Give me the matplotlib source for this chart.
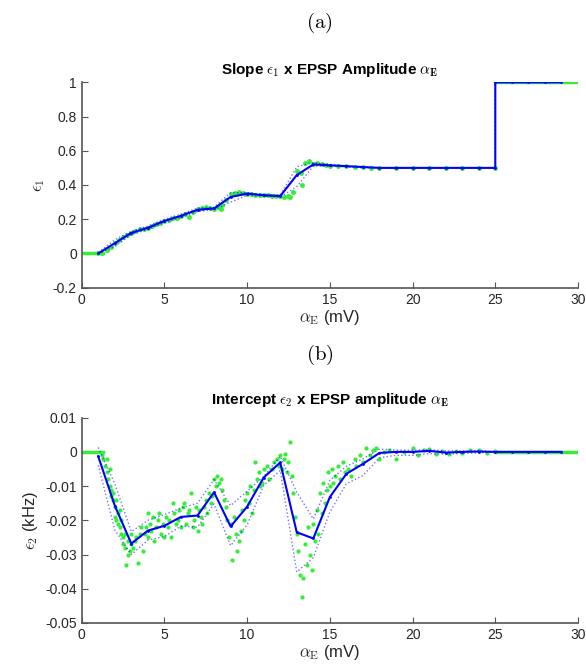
import matplotlib
matplotlib.use('Agg')
from matplotlib import pyplot as plt

plt.rcParams['font.family'] = ['Liberation Sans', 'DejaVu Sans']
plt.rcParams['mathtext.fontset'] = 'cm'

# ---- panel (a): slope eps1 vs EPSP amplitude ----
a_x = [1, 2, 3, 4, 5, 6, 7, 8, 9, 10, 11, 12, 13, 14, 15, 16, 17, 18, 19, 20,
       21, 22, 23, 24, 25, 25, 26, 27, 28, 29]
a_mean = [0.0, 0.06, 0.12, 0.15, 0.19, 0.22, 0.255, 0.263, 0.33, 0.35, 0.34, 0.335,
          0.458, 0.52, 0.515, 0.51, 0.505, 0.50, 0.50, 0.50, 0.50, 0.50, 0.50, 0.50,
          0.50, 1.0, 1.0, 1.0, 1.0, 1.0]
a_upper = [0.005, 0.08, 0.13, 0.16, 0.20, 0.23, 0.265, 0.27, 0.355, 0.355, 0.345, 0.34,
           0.507, 0.53, 0.52, 0.51, 0.505, 0.50, 0.50, 0.50, 0.50, 0.50, 0.50, 0.50,
           0.50, 1.0, 1.0, 1.0, 1.0, 1.0]
a_lower = [0.0, 0.04, 0.11, 0.14, 0.18, 0.21, 0.245, 0.255, 0.30, 0.34, 0.335, 0.33,
           0.39, 0.51, 0.51, 0.505, 0.50, 0.50, 0.50, 0.50, 0.50, 0.50, 0.50, 0.50,
           0.50, 1.0, 1.0, 1.0, 1.0, 1.0]

a_pts_x = [1.0, 1.25, 1.5, 1.75, 2.0, 2.25, 2.5, 2.75, 3.0, 3.25, 3.5, 3.75, 4.0, 4.25,
           4.5, 4.75, 5.0, 5.25, 5.5, 5.75, 6.0, 6.25, 6.5, 6.75, 7.0, 7.25, 7.5, 7.75,
           8.0, 8.25, 8.5, 8.75, 9.0, 9.25, 9.5, 9.75, 10.0, 10.25, 10.5, 10.75, 11.0,
           11.25, 11.5, 11.75, 12.0, 12.25, 12.5, 12.75, 13.0, 13.25, 13.5, 13.75, 14.0,
           14.25, 14.5, 14.75, 15.0, 15.5, 16.0, 16.5, 17.0, 17.5, 18.0, 19.0, 20.0,
           21.0, 22.0, 23.0, 24.0, 25.0, 8.4, 12.6, 13.3, 9.4]
a_pts_y = [0.0, 0.005, 0.02, 0.04, 0.06, 0.08, 0.095, 0.11, 0.12, 0.13, 0.14, 0.145,
           0.15, 0.16, 0.17, 0.18, 0.19, 0.195, 0.205, 0.21, 0.22, 0.23, 0.215, 0.245,
           0.26, 0.265, 0.27, 0.265, 0.26, 0.27, 0.285, 0.31, 0.35, 0.355, 0.36, 0.355,
           0.35, 0.345, 0.34, 0.34, 0.34, 0.34, 0.335, 0.335, 0.335, 0.33, 0.335, 0.36,
           0.48, 0.47, 0.53, 0.54, 0.525, 0.53, 0.52, 0.515, 0.51, 0.51, 0.51, 0.505,
           0.505, 0.50, 0.50, 0.50, 0.50, 0.50, 0.50, 0.50, 0.50, 0.50, 0.26, 0.33,
           0.40, 0.35]
a_flat_x = [0, 1.3, None, 25, 30]
a_flat_y = [0, 0, None, 1, 1]

# ---- panel (b): intercept eps2 vs EPSP amplitude ----
b_x = list(range(1, 30))
b_mean = [-0.0013, -0.0157, -0.0268, -0.023, -0.0216, -0.019, -0.0186, -0.0118,
          -0.0218, -0.016, -0.0075, -0.0031, -0.0235, -0.0253, -0.0132, -0.0064,
          -0.0035, -0.0003, 0.0, 0.0, 0.0003, -0.0002, 0.0, 0.0001, 0.0, 0.0, 0.0,
          0.0, 0.0]
b_upper = [0.0013, -0.0093, -0.0233, -0.020, -0.0183, -0.0164, -0.015, -0.0081,
           -0.0157, -0.0115, -0.0072, -0.0013, -0.0118, -0.0196, -0.0083, -0.0042,
           -0.002, 0.0008, 0.0005, 0.0005, 0.0006, 0.0003, 0.0003, 0.0004, 0.0, 0.0,
           0.0, 0.0, 0.0]
b_lower = [-0.0039, -0.0228, -0.030, -0.0258, -0.0247, -0.0217, -0.022, -0.0152,
           -0.0274, -0.0213, -0.0098, -0.0054, -0.0351, -0.0309, -0.0176, -0.0093,
           -0.0069, -0.0017, -0.001, -0.001, -0.0005, -0.0007, -0.0004, -0.0003, 0.0,
           0.0, 0.0, 0.0, 0.0]

b_pts_x = [1.2, 1.3, 1.4, 1.5, 1.5, 1.6, 1.7, 1.7, 1.8, 1.8, 1.9, 1.9, 2.0, 2.0, 2.1,
           2.1, 2.2, 2.2, 2.3, 2.3, 2.4, 2.4, 2.5, 2.5, 2.6, 2.6, 2.7, 2.8, 2.8, 2.9,
           3.0, 3.0, 3.1, 3.2, 3.3, 3.4, 3.5, 3.6, 3.7, 3.8, 3.9, 4.0, 4.0, 4.1, 4.2,
           4.3, 4.4, 4.5, 4.6, 4.7, 4.8, 4.9, 5.0, 5.1, 5.2, 5.3, 5.4, 5.5, 5.6, 5.7,
           5.8, 5.9, 6.0, 6.1, 6.2, 6.3, 6.4, 6.5, 6.6, 6.7, 6.8, 6.9, 7.0, 7.1, 7.2,
           7.3, 7.4, 7.5, 7.6, 7.7, 7.8, 7.9, 8.0, 8.1, 8.2, 8.3, 8.4, 8.5, 8.6, 8.7,
           8.8, 8.9, 9.0, 9.1, 9.2, 9.3, 9.4, 9.5, 9.6, 9.7, 9.8, 9.9, 10.0, 10.1,
           10.2, 10.3, 10.4, 10.5, 10.6, 10.7, 10.8, 10.9, 11.0, 11.2, 11.3, 11.5,
           11.6, 11.8, 11.9, 12.0, 12.1, 12.2, 12.3, 12.4, 12.5, 12.6, 12.7, 12.8,
           12.9, 13.0, 13.1, 13.2, 13.3, 13.4, 13.5, 13.6, 13.7, 13.8, 13.9, 14.0,
           14.1, 14.2, 14.3, 14.4, 14.5, 14.6, 14.7, 14.8, 14.9, 15.0, 15.1, 15.2,
           15.3, 15.5, 15.6, 15.8, 15.9, 16.1, 16.3, 16.5, 16.6, 16.8, 17.0, 17.2,
           17.4, 17.6, 17.8, 18.0, 18.3, 18.6, 19.0, 19.5, 20.0, 20.3, 20.7, 21.0,
           21.4, 21.8, 22.2, 22.6, 23.0, 23.5, 24.0, 24.5, 25.0]
b_pts_y = [-0.001, -0.002, -0.004, -0.002, -0.006, -0.008, -0.010, -0.005, -0.011,
           -0.013, -0.012, -0.014, -0.016, -0.019, -0.020, -0.014, -0.018, -0.021,
           -0.022, -0.017, -0.024, -0.020, -0.025, -0.027, -0.024, -0.028, -0.033,
           -0.030, -0.026, -0.029, -0.027, -0.024, -0.028, -0.026, -0.025, -0.0325,
           -0.024, -0.022, -0.029, -0.024, -0.022, -0.018, -0.025, -0.021, -0.023,
           -0.019, -0.026, -0.022, -0.020, -0.018, -0.024, -0.021, -0.025, -0.019,
           -0.022, -0.020, -0.025, -0.015, -0.018, -0.021, -0.020, -0.017, -0.022,
           -0.016, -0.015, -0.021, -0.018, -0.017, -0.012, -0.022, -0.020, -0.016,
           -0.023, -0.017, -0.019, -0.021, -0.016, -0.014, -0.018, -0.012, -0.015,
           -0.013, -0.008, -0.010, -0.007, -0.009, -0.008, -0.011, -0.014, -0.016,
           -0.020, -0.025, -0.021, -0.0315, -0.019, -0.024, -0.029, -0.026, -0.023,
           -0.017, -0.020, -0.014, -0.012, -0.015, -0.010, -0.018, -0.011, -0.003,
           -0.008, -0.006, -0.010, -0.009, -0.005, -0.004, -0.008, -0.005, -0.003,
           -0.002, -0.004, -0.001, -0.005, -0.002, -0.0005, -0.006, -0.003, 0.003,
           -0.007, -0.012, -0.019, -0.024, -0.029, -0.036, -0.0425, -0.037, -0.027,
           -0.033, -0.022, -0.030, -0.0345, -0.021, -0.026, -0.017, -0.024, -0.012,
           -0.018, -0.009, -0.015, -0.011, -0.006, -0.010, -0.005, -0.009, -0.007,
           -0.004, -0.008, -0.003, -0.006, -0.005, -0.007, -0.002, -0.004, -0.001,
           -0.003, 0.001, -0.001, 0.0005, 0.001, -0.002, 0.0, 0.0005, -0.002, 0.0,
           0.001, -0.001, 0.0005, 0.0008, -0.0005, 0.0004, -0.0006, 0.0003, -0.0004,
           0.0005, 0.0006, -0.0003, 0.0004]
b_flat_x = [0, 1.3, None, 25, 30]
b_flat_y = [0, 0, None, 0, 0]

green = '#33ee33'
blue = '#0000ff'
axcol = '#555555'


def style(ax):
    ax.spines['top'].set_visible(False)
    ax.spines['right'].set_visible(False)
    for s in ('left', 'bottom'):
        ax.spines[s].set_color(axcol)
        ax.spines[s].set_linewidth(1.2)
    ax.tick_params(direction='in', length=4, colors=axcol, labelcolor='#262626',
                   labelsize=10)
    ax.set_xlim(0, 30)
    ax.set_xticks([0, 5, 10, 15, 20, 25, 30])
    ax.set_xlabel(r'$\alpha_\mathrm{E}$ (mV)', fontsize=12, color='#262626', labelpad=1)


fig = plt.figure(figsize=(5.86, 6.67), dpi=100)

ax1 = fig.add_axes([0.1394, 0.5687, 0.847, 0.3079])
ax1.plot(a_flat_x, a_flat_y, color=green, lw=2.5)
ax1.plot(a_pts_x, a_pts_y, ls='none', marker='.', ms=5, color=green)
ax1.plot(a_x, a_upper, ls=':', lw=1, color=blue, alpha=0.55)
ax1.plot(a_x, a_lower, ls=':', lw=1, color=blue, alpha=0.55)
ax1.plot(a_x, a_mean, '-', lw=1.5, color=blue, marker='.', ms=2)
ax1.set_ylim(-0.2, 1)
ax1.set_yticks([-0.2, 0, 0.2, 0.4, 0.6, 0.8, 1])
ax1.set_yticklabels(['-0.2', '0', '0.2', '0.4', '0.6', '0.8', '1'])
style(ax1)
ax1.set_ylabel(r'$\epsilon_1$', fontsize=12, color='#262626')
ax1.set_title(r'Slope $\epsilon_\mathbf{1}$ x EPSP Amplitude $\alpha_\mathbf{E}$',
              fontsize=11, fontweight='bold', pad=6)

ax2 = fig.add_axes([0.1394, 0.066, 0.847, 0.3078])
ax2.plot(b_flat_x, b_flat_y, color=green, lw=2.5)
ax2.plot(b_pts_x, b_pts_y, ls='none', marker='.', ms=4, color=green)
ax2.plot(b_x, b_upper, ls=':', lw=1, color=blue, alpha=0.55)
ax2.plot(b_x, b_lower, ls=':', lw=1, color=blue, alpha=0.55)
ax2.plot(b_x, b_mean, '-', lw=1.5, color=blue, marker='.', ms=2)
ax2.set_ylim(-0.05, 0.01)
ax2.set_yticks([-0.05, -0.04, -0.03, -0.02, -0.01, 0, 0.01])
ax2.set_yticklabels(['-0.05', '-0.04', '-0.03', '-0.02', '-0.01', '0', '0.01'])
style(ax2)
ax2.set_ylabel(r'$\epsilon_2$ (kHz)', fontsize=12, color='#262626')
ax2.set_title(r'Intercept $\epsilon_\mathbf{2}$ x EPSP amplitude $\alpha_\mathbf{E}$',
              fontsize=11, fontweight='bold', pad=10)

fig.text(0.545, 0.965, r'$\mathrm{(a)}$', ha='center', va='center', fontsize=15)
fig.text(0.545, 0.468, r'$\mathrm{(b)}$', ha='center', va='center', fontsize=15)

fig.savefig('out.png', dpi=100)
